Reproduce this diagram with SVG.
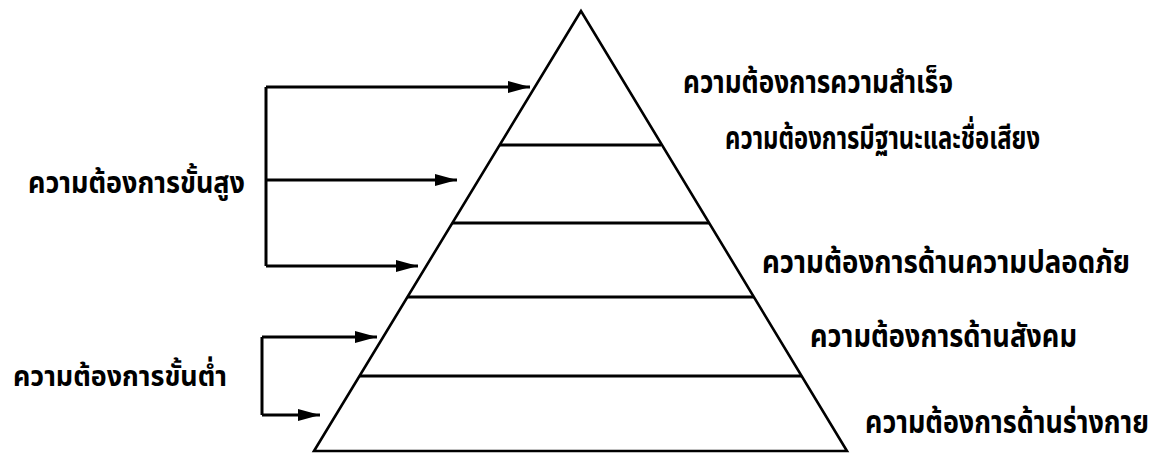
<svg xmlns="http://www.w3.org/2000/svg" width="1171" height="454" viewBox="0 0 1171 454">
<style>
.ln{stroke:#000;stroke-width:3;fill:none}
.tri{stroke:#000;stroke-width:2.6;fill:#fff;stroke-linejoin:miter}
.lbl{font-family:"Noto Sans Thai","Noto Sans","DejaVu Sans",sans-serif;font-weight:bold;font-size:26px;fill:#000}
</style>
<defs>
<marker id="ah" markerUnits="userSpaceOnUse" markerWidth="22" markerHeight="12" refX="22" refY="6" orient="auto">
<path d="M0,0 L22,6 L0,12 z" fill="#000"/>
</marker>
</defs>
<rect width="1171" height="454" fill="#fff"/>
<g id="pyramid">
<polygon class="tri" points="581,11 314,451 847,451"/>
<line class="ln" x1="500" y1="145" x2="661" y2="145"/>
<line class="ln" x1="452" y1="223" x2="709" y2="223"/>
<line class="ln" x1="407" y1="297" x2="754" y2="297"/>
<line class="ln" x1="359" y1="376" x2="802" y2="376"/>
</g>
<g id="level-labels">
<text class="lbl" transform="translate(683,93) scale(1,1.22)" textLength="270" lengthAdjust="spacingAndGlyphs">ความต้องการความสำเร็จ</text>
<text class="lbl" transform="translate(725,149) scale(1,1.22)" textLength="315" lengthAdjust="spacingAndGlyphs">ความต้องการมีฐานะและชื่อเสียง</text>
<text class="lbl" transform="translate(762,273) scale(1,1.22)" textLength="368" lengthAdjust="spacingAndGlyphs">ความต้องการด้านความปลอดภัย</text>
<text class="lbl" transform="translate(810,347) scale(1,1.22)" textLength="267" lengthAdjust="spacingAndGlyphs">ความต้องการด้านสังคม</text>
<text class="lbl" transform="translate(865,433) scale(1,1.22)" textLength="284" lengthAdjust="spacingAndGlyphs">ความต้องการด้านร่างกาย</text>
</g>
<g id="higher-needs">
<text class="lbl" transform="translate(28,193) scale(1,1.15)" textLength="217" lengthAdjust="spacingAndGlyphs">ความต้องการขั้นสูง</text>
</g>
<g id="lower-needs">
<text class="lbl" transform="translate(13,386) scale(1,1.1)" textLength="214" lengthAdjust="spacingAndGlyphs">ความต้องการขั้นต่ำ</text>
</g>
<g id="connectors">
<path class="ln" d="M266,87 V266"/>
<path class="ln" d="M266,87 H530" marker-end="url(#ah)"/>
<path class="ln" d="M266,180 H457" marker-end="url(#ah)"/>
<path class="ln" d="M266,266 H418" marker-end="url(#ah)"/>
<path class="ln" d="M262,337 V415"/>
<path class="ln" d="M262,337 H377" marker-end="url(#ah)"/>
<path class="ln" d="M262,415 H320" marker-end="url(#ah)"/>
</g>
</svg>
